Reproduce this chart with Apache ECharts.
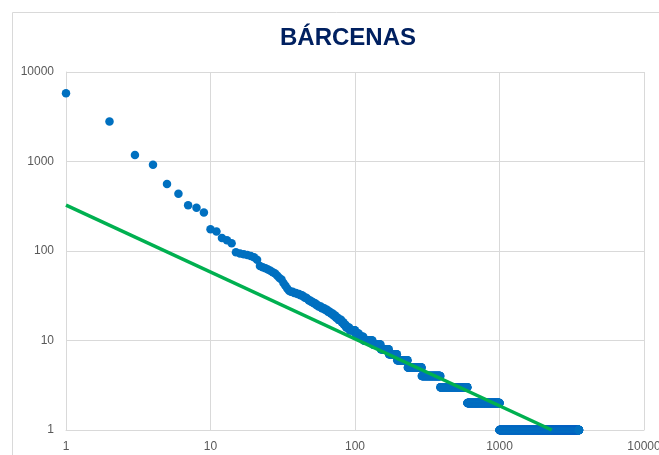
<!DOCTYPE html>
<html>
<head>
<meta charset="utf-8">
<script src="https://cdn.jsdelivr.net/npm/echarts@6/dist/echarts.min.js"></script>
<style>
html,body{margin:0;padding:0;background:#fff;}
#c{width:659px;height:455px;}
</style>
</head>
<body>
<div id="c"></div>
<script>
// Frequencies of the top-ranked words (rank 1..100)
const topFreqs = [
  5800, 2800, 1180, 920, 560, 435, 325, 305, 270, 175,
  165, 140, 132, 122, 97, 94, 92, 90, 88, 85,
  80, 68, 66, 64, 62, 60, 58, 56, 53, 50,
  48, 44, 41, 38, 36, 35, 35, 34, 34, 33,
  33, 32, 32, 31, 30, 30, 29, 28, 28, 27,
  27, 26, 26, 25, 25, 24, 24, 24, 23, 23,
  23, 22, 22, 22, 21, 21, 21, 20, 20, 20,
  19, 19, 19, 18, 18, 18, 17, 17, 17, 17,
  16, 16, 16, 15, 15, 15, 14, 14, 14, 14,
  14, 13, 13, 13, 13, 13, 13, 13, 13, 13
];
// Tail: frequency levels and how many words share each level
const tailFreqs  = [12, 11, 10,  9,  8,  7,  6,  5,   4,   3,   2,    1];
const tailCounts = [ 6,  8, 18, 18, 21, 24, 36, 58, 100, 210, 400, 2551];
// Power-law trendline end points
const trendRanks = [1, 2300];
const trendFreqs = [326, 1];
const xTicks = ['1', '10', '100', '1000', '10000'];
const yTicks = ['1', '10', '100', '1000', '10000'];

const points = [];
let rank = 1;
topFreqs.forEach(f => { points.push([rank, f]); rank++; });
tailFreqs.forEach((f, i) => {
  for (let k = 0; k < tailCounts[i]; k++) { points.push([rank, f]); rank++; }
});
const trend = trendRanks.map((r, i) => [r, trendFreqs[i]]);

const chart = echarts.init(document.getElementById('c'), null, {renderer: 'canvas'});
const labelFont = {color: '#595959', fontSize: 12, fontFamily: 'Liberation Sans'};
chart.setOption({
  animation: false,
  backgroundColor: '#fff',
  title: {
    text: 'BÁRCENAS',
    left: 343, top: 21, textAlign: 'center',
    textStyle: {color: '#002060', fontSize: 24, fontWeight: 'bold', fontFamily: 'Liberation Sans Narrow, Liberation Sans'}
  },
  graphic: [{
    type: 'rect', silent: true,
    shape: {x: 12.5, y: 12.5, width: 700, height: 500},
    style: {fill: 'none', stroke: '#d9d9d9', lineWidth: 1}
  }],
  grid: {left: 66, right: 15, top: 72, bottom: 25, outerBoundsMode: 'none', containLabel: false},
  xAxis: {
    type: 'log', logBase: 10, min: 1, max: 10000,
    axisLine: {show: true, lineStyle: {color: '#d9d9d9'}},
    axisTick: {show: false},
    splitLine: {show: true, lineStyle: {color: '#d9d9d9', width: 1}},
    axisLabel: Object.assign({margin: 11, formatter: v => xTicks.includes(String(v)) ? String(v) : ''}, labelFont)
  },
  yAxis: {
    type: 'log', logBase: 10, min: 1, max: 10000,
    axisLine: {show: true, lineStyle: {color: '#d9d9d9'}},
    axisTick: {show: false},
    splitLine: {show: true, lineStyle: {color: '#d9d9d9', width: 1}},
    axisLabel: Object.assign({margin: 12, formatter: v => yTicks.includes(String(v)) ? String(v) : ''}, labelFont)
  },
  series: [
    {
      type: 'scatter', data: points, symbol: 'circle', symbolSize: 8.5,
      itemStyle: {color: '#0070C0', opacity: 1}, clip: false, z: 2, large: false
    },
    {
      type: 'line', data: trend, symbol: 'none',
      lineStyle: {color: '#00B050', width: 3.5}, z: 3, clip: true
    }
  ]
});
</script>
</body>
</html>
